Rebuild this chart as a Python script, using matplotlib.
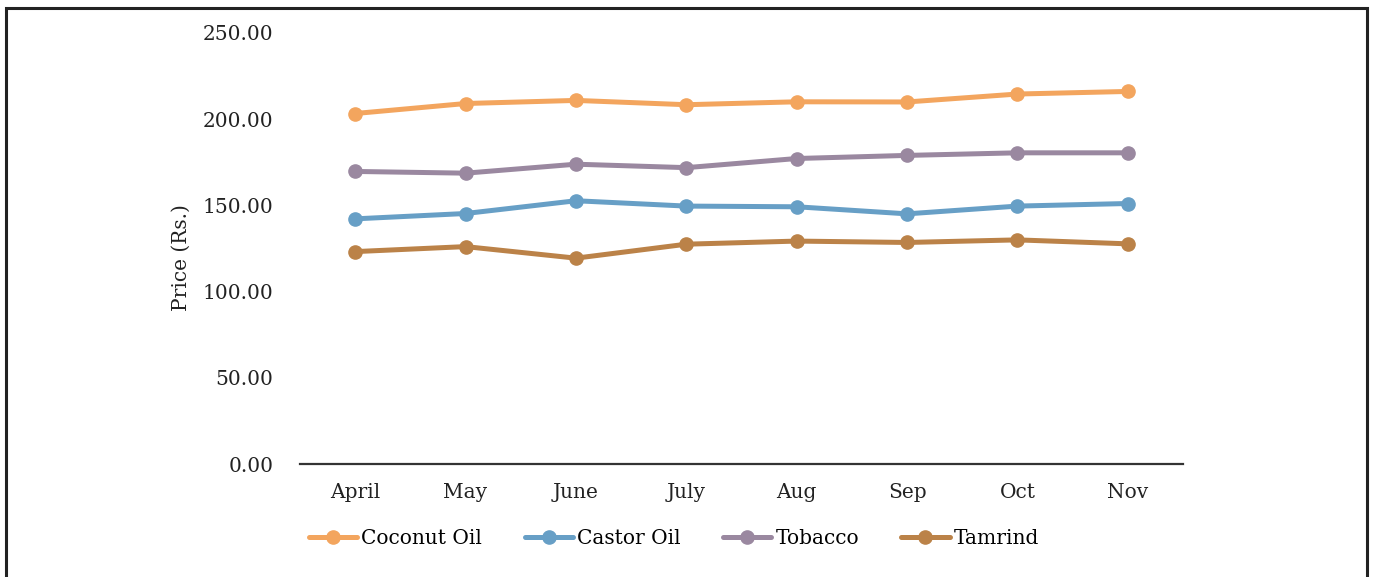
import matplotlib
matplotlib.use("Agg")
import matplotlib.pyplot as plt
from matplotlib.patches import Rectangle

months = ["April", "May", "June", "July", "Aug", "Sep", "Oct", "Nov"]
coconut_oil = [203.3, 209.1, 210.9, 208.4, 210.1, 210.0, 214.6, 216.1]
castor_oil = [142.2, 145.3, 152.7, 149.6, 149.2, 145.1, 149.6, 151.1]
tobacco = [169.7, 168.7, 173.9, 171.9, 177.2, 179.0, 180.5, 180.5]
tamrind = [123.2, 126.1, 119.4, 127.5, 129.3, 128.5, 130.0, 127.7]

series_names = ["Coconut Oil", "Castor Oil", "Tobacco", "Tamrind"]
series_values = [coconut_oil, castor_oil, tobacco, tamrind]
series_colors = ["#F3A55E", "#679FC6", "#9A88A0", "#BB8248"]

plt.rcParams["font.family"] = ["DejaVu Serif"]
FS = 14.5
W, H = 1373, 577
fig = plt.figure(figsize=(W / 100, H / 100), dpi=100)
ax = fig.add_axes([300 / W, 1 - 464 / H, 883 / W, 431 / H])

x = list(range(len(months)))
for name, vals, col in zip(series_names, series_values, series_colors):
    ax.plot(x, vals, color=col, lw=3.6, marker="o", ms=9.5,
            solid_capstyle="round", label=name)

ax.set_xlim(-0.5, len(months) - 0.5)
ax.set_ylim(0, 250)
ax.set_yticks([0, 50, 100, 150, 200, 250])
ax.set_yticklabels([f"{v:.2f}" for v in [0, 50, 100, 150, 200, 250]])
ax.set_xticks(x)
ax.set_xticklabels(months)
ax.tick_params(axis="both", length=0, labelsize=FS, colors="#222222")
ax.tick_params(axis="y", pad=19)
ax.tick_params(axis="x", pad=14)
for s in ["top", "right", "left"]:
    ax.spines[s].set_visible(False)
ax.spines["bottom"].set_color("#333333")
ax.spines["bottom"].set_linewidth(1.6)

fig.text(181 / W, 1 - 258 / H, "Price (Rs.)", rotation=90, ha="center",
         va="center", fontsize=FS, color="#222222")

fig.legend(loc="center", bbox_to_anchor=(674 / W, 1 - 539 / H), ncol=4,
           frameon=False, fontsize=FS, handlelength=2.4, handletextpad=0.2,
           columnspacing=2.1)

fig.patches.append(Rectangle((6 / W, -0.1), 1361 / W, 1.1 - 8 / H,
                             transform=fig.transFigure, fill=False,
                             edgecolor="#222222", lw=2.2))

fig.savefig("out.png", dpi=100)
